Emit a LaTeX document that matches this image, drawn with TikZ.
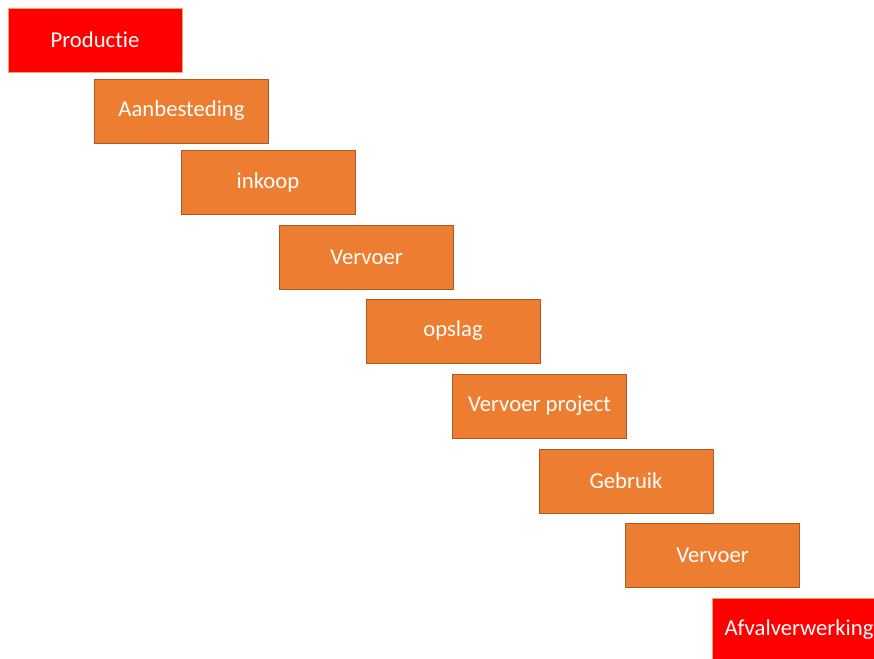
\documentclass[tikz,border=0pt]{standalone}
\usepackage{fontspec}
\setmainfont[Ligatures={NoCommon}]{Carlito}
\definecolor{staporanje}{HTML}{ED7D31}
\definecolor{staprand}{HTML}{AE5A21}
\definecolor{eindrood}{HTML}{FF0000}
\tikzset{
  stap/.style={rectangle,fill=staporanje,draw=staprand,line width=0.8pt,
    minimum width=174pt,minimum height=64pt,text=white,font=\fontsize{22.7}{26}\selectfont},
  eind/.style={stap,fill=eindrood,draw=staporanje!70!white}
}
\begin{document}
\begin{tikzpicture}[x=1pt,y=-1pt]
  \clip (0,0) rectangle (874,658);
  \useasboundingbox (0,0) rectangle (874,658);
  \node[eind] (productie) at (95,40) {Productie};
  \node[stap] (aanbesteding) at (181.5,111) {Aanbesteding};
  \node[stap] (inkoop) at (268,182) {inkoop};
  \node[stap] (vervoer1) at (366.5,257) {Vervoer};
  \node[stap] (opslag) at (453,331) {opslag};
  \node[stap] (vervoerproject) at (539.5,406) {Vervoer project};
  \node[stap] (gebruik) at (626,481) {Gebruik};
  \node[stap] (vervoer2) at (712.5,555) {Vervoer};
  \node[eind] (afval) at (799,630) {Afvalverwerking};
\end{tikzpicture}
\end{document}
